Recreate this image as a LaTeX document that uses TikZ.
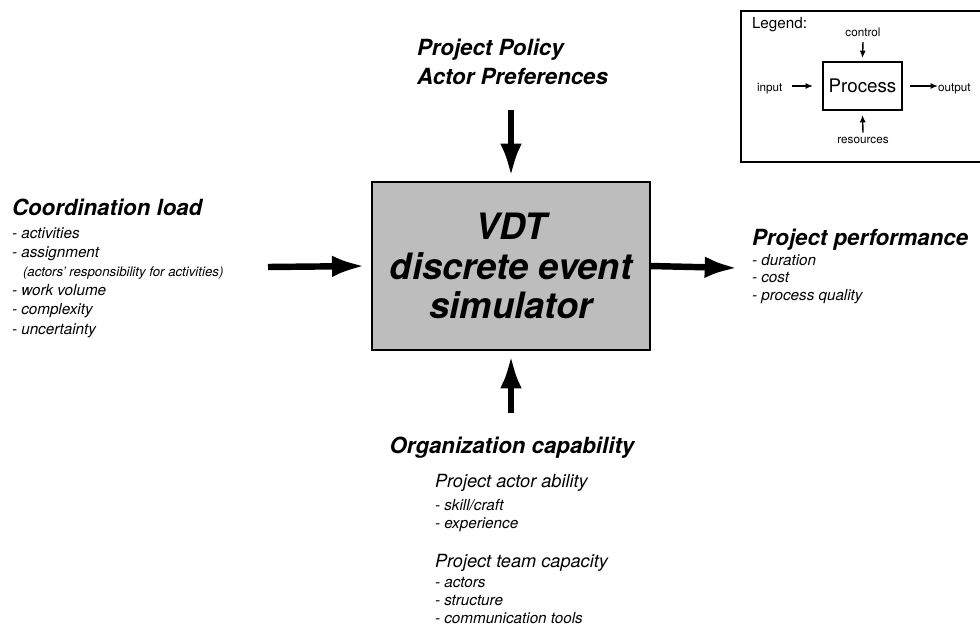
\documentclass[tikz,border=0pt]{standalone}
\usepackage{fontspec}
\setmainfont{TeX Gyre Heros}
\usetikzlibrary{arrows.meta}
\tikzset{>={Latex[width=6.5mm,length=10mm]}}

\begin{document}
\begin{tikzpicture}[
    x = 0.3mm, y = -0.3mm,
    every node/.style = {inner sep=0pt, outer sep=0pt},
    head/.style = {font=\fontsize{19}{23}\selectfont\bfseries\itshape, anchor=base west},
    item/.style = {font=\fontsize{13}{16}\selectfont\itshape, anchor=base west},
    note/.style = {font=\fontsize{11.3}{13}\selectfont\itshape, anchor=base west},
    sub/.style = {font=\fontsize{15.5}{19}\selectfont\itshape, anchor=base west},
    tag/.style = {font=\fontsize{10}{12}\selectfont},
    flow/.style = {->, line width=5.5pt},
    tiny/.style = {-{Latex[width=1.8mm,length=2.2mm]}, line width=1.2pt},
    sim/.style = {draw, line width=1.6pt, fill=black!26,
        minimum width=83.4mm, minimum height=50.4mm, align=center,
        font=\fontsize{31}{34}\selectfont\bfseries\itshape}
  ]
  \useasboundingbox (0,0) rectangle (980,632);

  % simulator in the middle
  \node[sim] (vdt) at (511,266) {VDT\\discrete event\\simulator};

  % control from above
  \node[head] (policy) at (417,55) {Project Policy};
  \node[head] (prefs) at (417,84) {Actor Preferences};
  \coordinate (policy-in) at (511,110);
  \draw[flow] (policy-in) -- ([yshift=1.5mm]vdt.north);

  % input on the left
  \node[head] (load) at (12,215) {Coordination load};
  \foreach \txt [count=\i from 0] in {activities, assignment}
    \node[item] (load-a\i) at (12,{238+19*\i}) {- \txt};
  \node[note] (load-note) at (23,276) {(actors' responsibility for activities)};
  \foreach \txt [count=\i from 0] in {work volume, complexity, uncertainty}
    \node[item] (load-b\i) at (12,{295+19.5*\i}) {- \txt};
  \coordinate (load-in) at (268,267);
  \draw[flow] (load-in) -- ([xshift=-2mm]vdt.west);

  % output on the right
  \node[head] (perf) at (752,245) {Project performance};
  \foreach \txt [count=\i from 0] in {duration, cost, process quality}
    \node[item] (perf-\i) at (752,{265+17.5*\i}) {- \txt};
  \coordinate (perf-out) at (738,268);
  \draw[flow] (vdt.east) -- (perf-out);

  % resources from below
  \node[head, anchor=base] (org) at (512,453) {Organization capability};
  \coordinate (org-in) at (511,413);
  \draw[flow] (org-in) -- ([yshift=-1.5mm]vdt.south);

  \node[sub] (ability) at (435,487) {Project actor ability};
  \foreach \txt [count=\i from 0] in {skill/craft, experience}
    \node[item] (ability-\i) at (435,{510+18*\i}) {- \txt};
  \node[sub] (team) at (435,567) {Project team capacity};
  \foreach \txt [count=\i from 0] in {actors, structure, communication tools}
    \node[item] (team-\i) at (435,{587+18*\i}) {- \txt};

  % legend
  \draw[line width=1pt] (980,11) -| (741,162) -- (980,162);
  \node[anchor=base west, font=\fontsize{13}{15}\selectfont] (legend) at (752,28) {Legend:};
  \node[draw, line width=1pt, minimum width=23.7mm, minimum height=14.4mm,
        font=\fontsize{16}{19}\selectfont] (proc) at (862.5,86) {Process};
  \node[tag, anchor=base] (control) at (863,36) {control};
  \node[tag, anchor=base west] (input) at (757,91) {input};
  \node[tag, anchor=base west] (output) at (938,91) {output};
  \node[tag, anchor=base] (resources) at (863,143) {resources};
  \draw[tiny] ([yshift=-1.8mm]control.base) -- ([yshift=1.2mm]proc.north);
  \draw[tiny] ([xshift=3mm]input.east |- proc.west) -- ([xshift=-3mm]proc.west);
  \draw[tiny] ([xshift=2.4mm]proc.east) -- (proc.east -| output.west);
  \draw[tiny] ([yshift=1.2mm]resources.north) -- ([yshift=-1.5mm]proc.south);
\end{tikzpicture}
\end{document}
